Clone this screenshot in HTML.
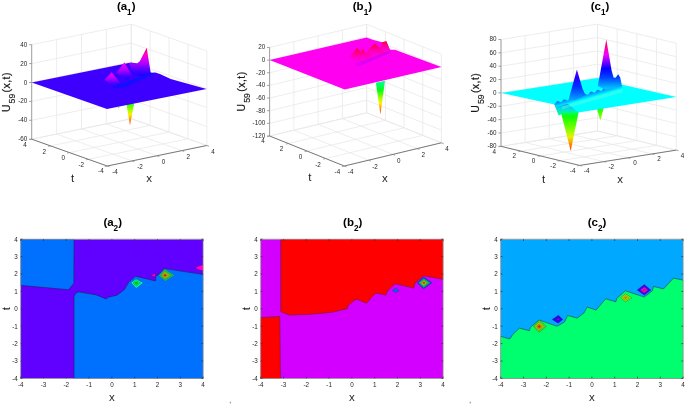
<!DOCTYPE html>
<html><head><meta charset="utf-8"><style>
html,body{margin:0;padding:0;background:#fff;}
svg{display:block;filter:blur(0.35px);}
text{font-family:"Liberation Sans", sans-serif;}
</style></head><body>
<svg width="685" height="405" viewBox="0 0 685 405">
<defs><linearGradient id="a1sp" gradientUnits="userSpaceOnUse" x1="0" y1="104" x2="0" y2="125.5"><stop offset="0" stop-color="#30ff00"/><stop offset="0.3" stop-color="#a8ff00"/><stop offset="0.48" stop-color="#ffee00"/><stop offset="0.72" stop-color="#ff9400"/><stop offset="1" stop-color="#ff3a00"/></linearGradient><linearGradient id="a1bb" gradientUnits="userSpaceOnUse" x1="0" y1="0" x2="0" y2="1"><stop offset="0" stop-color="#1800ff"/><stop offset="1" stop-color="#1800ff"/></linearGradient><linearGradient id="a1p3" gradientUnits="userSpaceOnUse" x1="0" y1="47.7" x2="0" y2="76"><stop offset="0" stop-color="#ff0060"/><stop offset="0.25" stop-color="#ff00d0"/><stop offset="0.5" stop-color="#c000ff"/><stop offset="0.75" stop-color="#6000ff"/><stop offset="1" stop-color="#1800ff"/></linearGradient><linearGradient id="a1p2" gradientUnits="userSpaceOnUse" x1="0" y1="62.2" x2="0" y2="80"><stop offset="0" stop-color="#ff00ff"/><stop offset="0.4" stop-color="#c000ff"/><stop offset="0.8" stop-color="#4000ff"/><stop offset="1" stop-color="#2000ff"/></linearGradient><linearGradient id="a1p1" gradientUnits="userSpaceOnUse" x1="0" y1="72.3" x2="0" y2="86"><stop offset="0" stop-color="#ff00ff"/><stop offset="0.4" stop-color="#c000ff"/><stop offset="0.8" stop-color="#5000ff"/><stop offset="1" stop-color="#3a00ff"/></linearGradient><linearGradient id="b1sp" gradientUnits="userSpaceOnUse" x1="0" y1="82" x2="0" y2="114.6"><stop offset="0" stop-color="#00ff90"/><stop offset="0.25" stop-color="#00ff10"/><stop offset="0.5" stop-color="#a8ff00"/><stop offset="0.65" stop-color="#ffee00"/><stop offset="0.82" stop-color="#ff9000"/><stop offset="1" stop-color="#ff3000"/></linearGradient><linearGradient id="b1rg" gradientUnits="userSpaceOnUse" x1="0" y1="46" x2="0" y2="64"><stop offset="0" stop-color="#ff0088"/><stop offset="0.5" stop-color="#ff00c0"/><stop offset="1" stop-color="#ff00ea"/></linearGradient><linearGradient id="b1pA" gradientUnits="userSpaceOnUse" x1="0" y1="48" x2="0" y2="63"><stop offset="0" stop-color="#ff0028"/><stop offset="0.18" stop-color="#ff0060"/><stop offset="0.45" stop-color="#ff00a8"/><stop offset="0.8" stop-color="#ff00e0"/><stop offset="1" stop-color="#ff00f0"/></linearGradient><linearGradient id="b1pB" gradientUnits="userSpaceOnUse" x1="0" y1="48.8" x2="0" y2="61"><stop offset="0" stop-color="#ff0028"/><stop offset="0.18" stop-color="#ff0060"/><stop offset="0.45" stop-color="#ff00a8"/><stop offset="0.8" stop-color="#ff00e0"/><stop offset="1" stop-color="#ff00f0"/></linearGradient><linearGradient id="b1pC" gradientUnits="userSpaceOnUse" x1="0" y1="43.6" x2="0" y2="57"><stop offset="0" stop-color="#ff0028"/><stop offset="0.18" stop-color="#ff0060"/><stop offset="0.45" stop-color="#ff00a8"/><stop offset="0.8" stop-color="#ff00e0"/><stop offset="1" stop-color="#ff00f0"/></linearGradient><linearGradient id="b1pD" gradientUnits="userSpaceOnUse" x1="0" y1="41.2" x2="0" y2="53"><stop offset="0" stop-color="#ff0028"/><stop offset="0.18" stop-color="#ff0060"/><stop offset="0.45" stop-color="#ff00a8"/><stop offset="0.8" stop-color="#ff00e0"/><stop offset="1" stop-color="#ff00f0"/></linearGradient><linearGradient id="b1pb" gradientUnits="userSpaceOnUse" x1="0" y1="0" x2="0" y2="1"><stop offset="0" stop-color="#b800ff"/><stop offset="1" stop-color="#b800ff"/></linearGradient><linearGradient id="c1sp2" gradientUnits="userSpaceOnUse" x1="0" y1="101" x2="0" y2="120.5"><stop offset="0" stop-color="#00ffc0"/><stop offset="0.45" stop-color="#30ff00"/><stop offset="1" stop-color="#a0ff00"/></linearGradient><linearGradient id="c1sk" gradientUnits="userSpaceOnUse" x1="0" y1="103" x2="0" y2="115"><stop offset="0" stop-color="#0090ff"/><stop offset="0.5" stop-color="#00e0e0"/><stop offset="1" stop-color="#00ff80"/></linearGradient><linearGradient id="c1rb" gradientUnits="userSpaceOnUse" x1="587.3179397493132" y1="92.29484016863059" x2="588.8730371208792" y2="97.77860458415286"><stop offset="0" stop-color="#0058ff"/><stop offset="0.55" stop-color="#00b0ff"/><stop offset="1" stop-color="#00f0ff"/></linearGradient><linearGradient id="c1sp" gradientUnits="userSpaceOnUse" x1="0" y1="111" x2="0" y2="151"><stop offset="0" stop-color="#00ff70"/><stop offset="0.15" stop-color="#10ff00"/><stop offset="0.45" stop-color="#80ff00"/><stop offset="0.65" stop-color="#e8f000"/><stop offset="0.82" stop-color="#ff9000"/><stop offset="1" stop-color="#ff3000"/></linearGradient><linearGradient id="c1pk" gradientUnits="userSpaceOnUse" x1="0" y1="39.4" x2="0" y2="88"><stop offset="0" stop-color="#ff0040"/><stop offset="0.17" stop-color="#ff00a0"/><stop offset="0.32" stop-color="#f000ff"/><stop offset="0.46" stop-color="#8000ff"/><stop offset="0.6" stop-color="#0800ff"/><stop offset="0.78" stop-color="#0040ff"/><stop offset="1" stop-color="#00c0ff"/></linearGradient><linearGradient id="c1pm" gradientUnits="userSpaceOnUse" x1="0" y1="69.6" x2="0" y2="101"><stop offset="0" stop-color="#7000ff"/><stop offset="0.25" stop-color="#2000ff"/><stop offset="0.55" stop-color="#0030ff"/><stop offset="1" stop-color="#00b0ff"/></linearGradient></defs>
<rect width="685" height="405" fill="#fff"/>
<g id="a1">
<line x1="31.70" y1="139.20" x2="31.70" y2="44.70" stroke="#e8e8e8" stroke-width="0.8" />
<line x1="56.60" y1="134.07" x2="56.60" y2="39.58" stroke="#e8e8e8" stroke-width="0.8" />
<line x1="81.50" y1="128.95" x2="81.50" y2="34.45" stroke="#e8e8e8" stroke-width="0.8" />
<line x1="106.40" y1="123.82" x2="106.40" y2="29.33" stroke="#e8e8e8" stroke-width="0.8" />
<line x1="131.30" y1="118.70" x2="131.30" y2="24.20" stroke="#e8e8e8" stroke-width="0.8" />
<line x1="31.70" y1="139.20" x2="131.30" y2="118.70" stroke="#e8e8e8" stroke-width="0.8" />
<line x1="31.70" y1="120.30" x2="131.30" y2="99.80" stroke="#e8e8e8" stroke-width="0.8" />
<line x1="31.70" y1="101.40" x2="131.30" y2="80.90" stroke="#e8e8e8" stroke-width="0.8" />
<line x1="31.70" y1="82.50" x2="131.30" y2="62.00" stroke="#e8e8e8" stroke-width="0.8" />
<line x1="31.70" y1="63.60" x2="131.30" y2="43.10" stroke="#e8e8e8" stroke-width="0.8" />
<line x1="31.70" y1="44.70" x2="131.30" y2="24.20" stroke="#e8e8e8" stroke-width="0.8" />
<line x1="206.80" y1="145.50" x2="206.80" y2="51.00" stroke="#e8e8e8" stroke-width="0.8" />
<line x1="187.93" y1="138.80" x2="187.93" y2="44.30" stroke="#e8e8e8" stroke-width="0.8" />
<line x1="169.05" y1="132.10" x2="169.05" y2="37.60" stroke="#e8e8e8" stroke-width="0.8" />
<line x1="150.18" y1="125.40" x2="150.18" y2="30.90" stroke="#e8e8e8" stroke-width="0.8" />
<line x1="131.30" y1="118.70" x2="131.30" y2="24.20" stroke="#e8e8e8" stroke-width="0.8" />
<line x1="131.30" y1="118.70" x2="206.80" y2="145.50" stroke="#e8e8e8" stroke-width="0.8" />
<line x1="131.30" y1="99.80" x2="206.80" y2="126.60" stroke="#e8e8e8" stroke-width="0.8" />
<line x1="131.30" y1="80.90" x2="206.80" y2="107.70" stroke="#e8e8e8" stroke-width="0.8" />
<line x1="131.30" y1="62.00" x2="206.80" y2="88.80" stroke="#e8e8e8" stroke-width="0.8" />
<line x1="131.30" y1="43.10" x2="206.80" y2="69.90" stroke="#e8e8e8" stroke-width="0.8" />
<line x1="131.30" y1="24.20" x2="206.80" y2="51.00" stroke="#e8e8e8" stroke-width="0.8" />
<line x1="31.70" y1="139.20" x2="107.20" y2="166.00" stroke="#e8e8e8" stroke-width="0.8" />
<line x1="56.60" y1="134.07" x2="132.10" y2="160.88" stroke="#e8e8e8" stroke-width="0.8" />
<line x1="81.50" y1="128.95" x2="157.00" y2="155.75" stroke="#e8e8e8" stroke-width="0.8" />
<line x1="106.40" y1="123.82" x2="181.90" y2="150.62" stroke="#e8e8e8" stroke-width="0.8" />
<line x1="131.30" y1="118.70" x2="206.80" y2="145.50" stroke="#e8e8e8" stroke-width="0.8" />
<line x1="107.20" y1="166.00" x2="206.80" y2="145.50" stroke="#e8e8e8" stroke-width="0.8" />
<line x1="88.32" y1="159.30" x2="187.93" y2="138.80" stroke="#e8e8e8" stroke-width="0.8" />
<line x1="69.45" y1="152.60" x2="169.05" y2="132.10" stroke="#e8e8e8" stroke-width="0.8" />
<line x1="50.57" y1="145.90" x2="150.18" y2="125.40" stroke="#e8e8e8" stroke-width="0.8" />
<line x1="31.70" y1="139.20" x2="131.30" y2="118.70" stroke="#e8e8e8" stroke-width="0.8" />
<line x1="31.70" y1="139.20" x2="31.70" y2="44.70" stroke="#8c8c8c" stroke-width="0.8" />
<line x1="31.70" y1="139.20" x2="107.20" y2="166.00" stroke="#5a5a5a" stroke-width="0.8" />
<line x1="107.20" y1="166.00" x2="206.80" y2="145.50" stroke="#5a5a5a" stroke-width="0.8" />
<line x1="29.10" y1="139.20" x2="31.70" y2="139.20" stroke="#8c8c8c" stroke-width="0.8" />
<text x="27.30" y="141.20" font-size="6.3" text-anchor="end" font-weight="normal" fill="#262626" >-60</text>
<line x1="29.10" y1="120.30" x2="31.70" y2="120.30" stroke="#8c8c8c" stroke-width="0.8" />
<text x="27.30" y="122.30" font-size="6.3" text-anchor="end" font-weight="normal" fill="#262626" >-40</text>
<line x1="29.10" y1="101.40" x2="31.70" y2="101.40" stroke="#8c8c8c" stroke-width="0.8" />
<text x="27.30" y="103.40" font-size="6.3" text-anchor="end" font-weight="normal" fill="#262626" >-20</text>
<line x1="29.10" y1="82.50" x2="31.70" y2="82.50" stroke="#8c8c8c" stroke-width="0.8" />
<text x="27.30" y="84.50" font-size="6.3" text-anchor="end" font-weight="normal" fill="#262626" >0</text>
<line x1="29.10" y1="63.60" x2="31.70" y2="63.60" stroke="#8c8c8c" stroke-width="0.8" />
<text x="27.30" y="65.60" font-size="6.3" text-anchor="end" font-weight="normal" fill="#262626" >20</text>
<line x1="29.10" y1="44.70" x2="31.70" y2="44.70" stroke="#8c8c8c" stroke-width="0.8" />
<text x="27.30" y="46.70" font-size="6.3" text-anchor="end" font-weight="normal" fill="#262626" >40</text>
<line x1="107.20" y1="166.00" x2="104.85" y2="166.48" stroke="#8c8c8c" stroke-width="0.8" />
<line x1="88.32" y1="159.30" x2="85.97" y2="159.78" stroke="#8c8c8c" stroke-width="0.8" />
<line x1="69.45" y1="152.60" x2="67.10" y2="153.08" stroke="#8c8c8c" stroke-width="0.8" />
<line x1="50.57" y1="145.90" x2="48.22" y2="146.38" stroke="#8c8c8c" stroke-width="0.8" />
<line x1="31.70" y1="139.20" x2="29.35" y2="139.68" stroke="#8c8c8c" stroke-width="0.8" />
<line x1="107.20" y1="166.00" x2="109.46" y2="166.80" stroke="#8c8c8c" stroke-width="0.8" />
<line x1="132.10" y1="160.88" x2="134.36" y2="161.68" stroke="#8c8c8c" stroke-width="0.8" />
<line x1="157.00" y1="155.75" x2="159.26" y2="156.55" stroke="#8c8c8c" stroke-width="0.8" />
<line x1="181.90" y1="150.62" x2="184.16" y2="151.43" stroke="#8c8c8c" stroke-width="0.8" />
<line x1="206.80" y1="145.50" x2="209.06" y2="146.30" stroke="#8c8c8c" stroke-width="0.8" />
<text x="25.10" y="147.40" font-size="6.3" text-anchor="middle" font-weight="normal" fill="#262626" >4</text>
<text x="44.30" y="153.80" font-size="6.3" text-anchor="middle" font-weight="normal" fill="#262626" >2</text>
<text x="63.20" y="159.90" font-size="6.3" text-anchor="middle" font-weight="normal" fill="#262626" >0</text>
<text x="81.30" y="166.90" font-size="6.3" text-anchor="middle" font-weight="normal" fill="#262626" >-2</text>
<text x="100.90" y="173.30" font-size="6.3" text-anchor="middle" font-weight="normal" fill="#262626" >-4</text>
<text x="115.00" y="174.00" font-size="6.3" text-anchor="middle" font-weight="normal" fill="#262626" >-4</text>
<text x="140.00" y="169.10" font-size="6.3" text-anchor="middle" font-weight="normal" fill="#262626" >-2</text>
<text x="163.50" y="164.30" font-size="6.3" text-anchor="middle" font-weight="normal" fill="#262626" >0</text>
<text x="188.20" y="158.90" font-size="6.3" text-anchor="middle" font-weight="normal" fill="#262626" >2</text>
<text x="213.00" y="154.00" font-size="6.3" text-anchor="middle" font-weight="normal" fill="#262626" >4</text>
</g>
<g id="b1">
<line x1="269.60" y1="136.00" x2="269.60" y2="47.45" stroke="#e8e8e8" stroke-width="0.8" />
<line x1="293.88" y1="130.20" x2="293.88" y2="41.65" stroke="#e8e8e8" stroke-width="0.8" />
<line x1="318.15" y1="124.40" x2="318.15" y2="35.85" stroke="#e8e8e8" stroke-width="0.8" />
<line x1="342.42" y1="118.60" x2="342.42" y2="30.05" stroke="#e8e8e8" stroke-width="0.8" />
<line x1="366.70" y1="112.80" x2="366.70" y2="24.25" stroke="#e8e8e8" stroke-width="0.8" />
<line x1="269.60" y1="136.00" x2="366.70" y2="112.80" stroke="#e8e8e8" stroke-width="0.8" />
<line x1="269.60" y1="123.35" x2="366.70" y2="100.15" stroke="#e8e8e8" stroke-width="0.8" />
<line x1="269.60" y1="110.70" x2="366.70" y2="87.50" stroke="#e8e8e8" stroke-width="0.8" />
<line x1="269.60" y1="98.05" x2="366.70" y2="74.85" stroke="#e8e8e8" stroke-width="0.8" />
<line x1="269.60" y1="85.40" x2="366.70" y2="62.20" stroke="#e8e8e8" stroke-width="0.8" />
<line x1="269.60" y1="72.75" x2="366.70" y2="49.55" stroke="#e8e8e8" stroke-width="0.8" />
<line x1="269.60" y1="60.10" x2="366.70" y2="36.90" stroke="#e8e8e8" stroke-width="0.8" />
<line x1="269.60" y1="47.45" x2="366.70" y2="24.25" stroke="#e8e8e8" stroke-width="0.8" />
<line x1="441.40" y1="142.80" x2="441.40" y2="54.25" stroke="#e8e8e8" stroke-width="0.8" />
<line x1="422.72" y1="135.30" x2="422.72" y2="46.75" stroke="#e8e8e8" stroke-width="0.8" />
<line x1="404.05" y1="127.80" x2="404.05" y2="39.25" stroke="#e8e8e8" stroke-width="0.8" />
<line x1="385.37" y1="120.30" x2="385.37" y2="31.75" stroke="#e8e8e8" stroke-width="0.8" />
<line x1="366.70" y1="112.80" x2="366.70" y2="24.25" stroke="#e8e8e8" stroke-width="0.8" />
<line x1="366.70" y1="112.80" x2="441.40" y2="142.80" stroke="#e8e8e8" stroke-width="0.8" />
<line x1="366.70" y1="100.15" x2="441.40" y2="130.15" stroke="#e8e8e8" stroke-width="0.8" />
<line x1="366.70" y1="87.50" x2="441.40" y2="117.50" stroke="#e8e8e8" stroke-width="0.8" />
<line x1="366.70" y1="74.85" x2="441.40" y2="104.85" stroke="#e8e8e8" stroke-width="0.8" />
<line x1="366.70" y1="62.20" x2="441.40" y2="92.20" stroke="#e8e8e8" stroke-width="0.8" />
<line x1="366.70" y1="49.55" x2="441.40" y2="79.55" stroke="#e8e8e8" stroke-width="0.8" />
<line x1="366.70" y1="36.90" x2="441.40" y2="66.90" stroke="#e8e8e8" stroke-width="0.8" />
<line x1="366.70" y1="24.25" x2="441.40" y2="54.25" stroke="#e8e8e8" stroke-width="0.8" />
<line x1="269.60" y1="136.00" x2="344.30" y2="166.00" stroke="#e8e8e8" stroke-width="0.8" />
<line x1="293.88" y1="130.20" x2="368.58" y2="160.20" stroke="#e8e8e8" stroke-width="0.8" />
<line x1="318.15" y1="124.40" x2="392.85" y2="154.40" stroke="#e8e8e8" stroke-width="0.8" />
<line x1="342.42" y1="118.60" x2="417.12" y2="148.60" stroke="#e8e8e8" stroke-width="0.8" />
<line x1="366.70" y1="112.80" x2="441.40" y2="142.80" stroke="#e8e8e8" stroke-width="0.8" />
<line x1="344.30" y1="166.00" x2="441.40" y2="142.80" stroke="#e8e8e8" stroke-width="0.8" />
<line x1="325.63" y1="158.50" x2="422.72" y2="135.30" stroke="#e8e8e8" stroke-width="0.8" />
<line x1="306.95" y1="151.00" x2="404.05" y2="127.80" stroke="#e8e8e8" stroke-width="0.8" />
<line x1="288.28" y1="143.50" x2="385.37" y2="120.30" stroke="#e8e8e8" stroke-width="0.8" />
<line x1="269.60" y1="136.00" x2="366.70" y2="112.80" stroke="#e8e8e8" stroke-width="0.8" />
<line x1="269.60" y1="136.00" x2="269.60" y2="47.45" stroke="#8c8c8c" stroke-width="0.8" />
<line x1="269.60" y1="136.00" x2="344.30" y2="166.00" stroke="#5a5a5a" stroke-width="0.8" />
<line x1="344.30" y1="166.00" x2="441.40" y2="142.80" stroke="#5a5a5a" stroke-width="0.8" />
<line x1="267.00" y1="136.00" x2="269.60" y2="136.00" stroke="#8c8c8c" stroke-width="0.8" />
<text x="265.20" y="138.00" font-size="6.3" text-anchor="end" font-weight="normal" fill="#262626" >-120</text>
<line x1="267.00" y1="123.35" x2="269.60" y2="123.35" stroke="#8c8c8c" stroke-width="0.8" />
<text x="265.20" y="125.35" font-size="6.3" text-anchor="end" font-weight="normal" fill="#262626" >-100</text>
<line x1="267.00" y1="110.70" x2="269.60" y2="110.70" stroke="#8c8c8c" stroke-width="0.8" />
<text x="265.20" y="112.70" font-size="6.3" text-anchor="end" font-weight="normal" fill="#262626" >-80</text>
<line x1="267.00" y1="98.05" x2="269.60" y2="98.05" stroke="#8c8c8c" stroke-width="0.8" />
<text x="265.20" y="100.05" font-size="6.3" text-anchor="end" font-weight="normal" fill="#262626" >-60</text>
<line x1="267.00" y1="85.40" x2="269.60" y2="85.40" stroke="#8c8c8c" stroke-width="0.8" />
<text x="265.20" y="87.40" font-size="6.3" text-anchor="end" font-weight="normal" fill="#262626" >-40</text>
<line x1="267.00" y1="72.75" x2="269.60" y2="72.75" stroke="#8c8c8c" stroke-width="0.8" />
<text x="265.20" y="74.75" font-size="6.3" text-anchor="end" font-weight="normal" fill="#262626" >-20</text>
<line x1="267.00" y1="60.10" x2="269.60" y2="60.10" stroke="#8c8c8c" stroke-width="0.8" />
<text x="265.20" y="62.10" font-size="6.3" text-anchor="end" font-weight="normal" fill="#262626" >0</text>
<line x1="267.00" y1="47.45" x2="269.60" y2="47.45" stroke="#8c8c8c" stroke-width="0.8" />
<text x="265.20" y="49.45" font-size="6.3" text-anchor="end" font-weight="normal" fill="#262626" >20</text>
<line x1="344.30" y1="166.00" x2="341.97" y2="166.56" stroke="#8c8c8c" stroke-width="0.8" />
<line x1="325.63" y1="158.50" x2="323.29" y2="159.06" stroke="#8c8c8c" stroke-width="0.8" />
<line x1="306.95" y1="151.00" x2="304.62" y2="151.56" stroke="#8c8c8c" stroke-width="0.8" />
<line x1="288.28" y1="143.50" x2="285.94" y2="144.06" stroke="#8c8c8c" stroke-width="0.8" />
<line x1="269.60" y1="136.00" x2="267.27" y2="136.56" stroke="#8c8c8c" stroke-width="0.8" />
<line x1="344.30" y1="166.00" x2="346.53" y2="166.89" stroke="#8c8c8c" stroke-width="0.8" />
<line x1="368.58" y1="160.20" x2="370.80" y2="161.09" stroke="#8c8c8c" stroke-width="0.8" />
<line x1="392.85" y1="154.40" x2="395.08" y2="155.29" stroke="#8c8c8c" stroke-width="0.8" />
<line x1="417.12" y1="148.60" x2="419.35" y2="149.49" stroke="#8c8c8c" stroke-width="0.8" />
<line x1="441.40" y1="142.80" x2="443.63" y2="143.69" stroke="#8c8c8c" stroke-width="0.8" />
<text x="262.90" y="143.10" font-size="6.3" text-anchor="middle" font-weight="normal" fill="#262626" >4</text>
<text x="281.60" y="151.30" font-size="6.3" text-anchor="middle" font-weight="normal" fill="#262626" >2</text>
<text x="300.60" y="159.00" font-size="6.3" text-anchor="middle" font-weight="normal" fill="#262626" >0</text>
<text x="318.00" y="166.70" font-size="6.3" text-anchor="middle" font-weight="normal" fill="#262626" >-2</text>
<text x="337.40" y="173.70" font-size="6.3" text-anchor="middle" font-weight="normal" fill="#262626" >-4</text>
<text x="350.60" y="174.30" font-size="6.3" text-anchor="middle" font-weight="normal" fill="#262626" >-4</text>
<text x="375.00" y="168.80" font-size="6.3" text-anchor="middle" font-weight="normal" fill="#262626" >-2</text>
<text x="398.70" y="162.70" font-size="6.3" text-anchor="middle" font-weight="normal" fill="#262626" >0</text>
<text x="423.20" y="156.90" font-size="6.3" text-anchor="middle" font-weight="normal" fill="#262626" >2</text>
<text x="447.10" y="151.30" font-size="6.3" text-anchor="middle" font-weight="normal" fill="#262626" >4</text>
</g>
<g id="c1">
<line x1="501.00" y1="146.34" x2="501.00" y2="39.46" stroke="#e8e8e8" stroke-width="0.8" />
<line x1="525.12" y1="142.52" x2="525.12" y2="35.63" stroke="#e8e8e8" stroke-width="0.8" />
<line x1="549.25" y1="138.69" x2="549.25" y2="31.81" stroke="#e8e8e8" stroke-width="0.8" />
<line x1="573.38" y1="134.87" x2="573.38" y2="27.98" stroke="#e8e8e8" stroke-width="0.8" />
<line x1="597.50" y1="131.04" x2="597.50" y2="24.16" stroke="#e8e8e8" stroke-width="0.8" />
<line x1="501.00" y1="146.34" x2="597.50" y2="131.04" stroke="#e8e8e8" stroke-width="0.8" />
<line x1="501.00" y1="132.98" x2="597.50" y2="117.68" stroke="#e8e8e8" stroke-width="0.8" />
<line x1="501.00" y1="119.62" x2="597.50" y2="104.32" stroke="#e8e8e8" stroke-width="0.8" />
<line x1="501.00" y1="106.26" x2="597.50" y2="90.96" stroke="#e8e8e8" stroke-width="0.8" />
<line x1="501.00" y1="92.90" x2="597.50" y2="77.60" stroke="#e8e8e8" stroke-width="0.8" />
<line x1="501.00" y1="79.54" x2="597.50" y2="64.24" stroke="#e8e8e8" stroke-width="0.8" />
<line x1="501.00" y1="66.18" x2="597.50" y2="50.88" stroke="#e8e8e8" stroke-width="0.8" />
<line x1="501.00" y1="52.82" x2="597.50" y2="37.52" stroke="#e8e8e8" stroke-width="0.8" />
<line x1="501.00" y1="39.46" x2="597.50" y2="24.16" stroke="#e8e8e8" stroke-width="0.8" />
<line x1="676.20" y1="150.14" x2="676.20" y2="43.26" stroke="#e8e8e8" stroke-width="0.8" />
<line x1="656.53" y1="145.37" x2="656.53" y2="38.49" stroke="#e8e8e8" stroke-width="0.8" />
<line x1="636.85" y1="140.59" x2="636.85" y2="33.71" stroke="#e8e8e8" stroke-width="0.8" />
<line x1="617.17" y1="135.81" x2="617.17" y2="28.93" stroke="#e8e8e8" stroke-width="0.8" />
<line x1="597.50" y1="131.04" x2="597.50" y2="24.16" stroke="#e8e8e8" stroke-width="0.8" />
<line x1="597.50" y1="131.04" x2="676.20" y2="150.14" stroke="#e8e8e8" stroke-width="0.8" />
<line x1="597.50" y1="117.68" x2="676.20" y2="136.78" stroke="#e8e8e8" stroke-width="0.8" />
<line x1="597.50" y1="104.32" x2="676.20" y2="123.42" stroke="#e8e8e8" stroke-width="0.8" />
<line x1="597.50" y1="90.96" x2="676.20" y2="110.06" stroke="#e8e8e8" stroke-width="0.8" />
<line x1="597.50" y1="77.60" x2="676.20" y2="96.70" stroke="#e8e8e8" stroke-width="0.8" />
<line x1="597.50" y1="64.24" x2="676.20" y2="83.34" stroke="#e8e8e8" stroke-width="0.8" />
<line x1="597.50" y1="50.88" x2="676.20" y2="69.98" stroke="#e8e8e8" stroke-width="0.8" />
<line x1="597.50" y1="37.52" x2="676.20" y2="56.62" stroke="#e8e8e8" stroke-width="0.8" />
<line x1="597.50" y1="24.16" x2="676.20" y2="43.26" stroke="#e8e8e8" stroke-width="0.8" />
<line x1="501.00" y1="146.34" x2="579.70" y2="165.44" stroke="#e8e8e8" stroke-width="0.8" />
<line x1="525.12" y1="142.52" x2="603.83" y2="161.62" stroke="#e8e8e8" stroke-width="0.8" />
<line x1="549.25" y1="138.69" x2="627.95" y2="157.79" stroke="#e8e8e8" stroke-width="0.8" />
<line x1="573.38" y1="134.87" x2="652.08" y2="153.97" stroke="#e8e8e8" stroke-width="0.8" />
<line x1="597.50" y1="131.04" x2="676.20" y2="150.14" stroke="#e8e8e8" stroke-width="0.8" />
<line x1="579.70" y1="165.44" x2="676.20" y2="150.14" stroke="#e8e8e8" stroke-width="0.8" />
<line x1="560.03" y1="160.67" x2="656.53" y2="145.37" stroke="#e8e8e8" stroke-width="0.8" />
<line x1="540.35" y1="155.89" x2="636.85" y2="140.59" stroke="#e8e8e8" stroke-width="0.8" />
<line x1="520.67" y1="151.12" x2="617.17" y2="135.81" stroke="#e8e8e8" stroke-width="0.8" />
<line x1="501.00" y1="146.34" x2="597.50" y2="131.04" stroke="#e8e8e8" stroke-width="0.8" />
<line x1="501.00" y1="146.34" x2="501.00" y2="39.46" stroke="#8c8c8c" stroke-width="0.8" />
<line x1="501.00" y1="146.34" x2="579.70" y2="165.44" stroke="#5a5a5a" stroke-width="0.8" />
<line x1="579.70" y1="165.44" x2="676.20" y2="150.14" stroke="#5a5a5a" stroke-width="0.8" />
<line x1="498.40" y1="146.34" x2="501.00" y2="146.34" stroke="#8c8c8c" stroke-width="0.8" />
<text x="496.60" y="148.34" font-size="6.3" text-anchor="end" font-weight="normal" fill="#262626" >-80</text>
<line x1="498.40" y1="132.98" x2="501.00" y2="132.98" stroke="#8c8c8c" stroke-width="0.8" />
<text x="496.60" y="134.98" font-size="6.3" text-anchor="end" font-weight="normal" fill="#262626" >-60</text>
<line x1="498.40" y1="119.62" x2="501.00" y2="119.62" stroke="#8c8c8c" stroke-width="0.8" />
<text x="496.60" y="121.62" font-size="6.3" text-anchor="end" font-weight="normal" fill="#262626" >-40</text>
<line x1="498.40" y1="106.26" x2="501.00" y2="106.26" stroke="#8c8c8c" stroke-width="0.8" />
<text x="496.60" y="108.26" font-size="6.3" text-anchor="end" font-weight="normal" fill="#262626" >-20</text>
<line x1="498.40" y1="92.90" x2="501.00" y2="92.90" stroke="#8c8c8c" stroke-width="0.8" />
<text x="496.60" y="94.90" font-size="6.3" text-anchor="end" font-weight="normal" fill="#262626" >0</text>
<line x1="498.40" y1="79.54" x2="501.00" y2="79.54" stroke="#8c8c8c" stroke-width="0.8" />
<text x="496.60" y="81.54" font-size="6.3" text-anchor="end" font-weight="normal" fill="#262626" >20</text>
<line x1="498.40" y1="66.18" x2="501.00" y2="66.18" stroke="#8c8c8c" stroke-width="0.8" />
<text x="496.60" y="68.18" font-size="6.3" text-anchor="end" font-weight="normal" fill="#262626" >40</text>
<line x1="498.40" y1="52.82" x2="501.00" y2="52.82" stroke="#8c8c8c" stroke-width="0.8" />
<text x="496.60" y="54.82" font-size="6.3" text-anchor="end" font-weight="normal" fill="#262626" >60</text>
<line x1="498.40" y1="39.46" x2="501.00" y2="39.46" stroke="#8c8c8c" stroke-width="0.8" />
<text x="496.60" y="41.46" font-size="6.3" text-anchor="end" font-weight="normal" fill="#262626" >80</text>
<line x1="579.70" y1="165.44" x2="577.33" y2="165.82" stroke="#8c8c8c" stroke-width="0.8" />
<line x1="560.03" y1="160.67" x2="557.65" y2="161.04" stroke="#8c8c8c" stroke-width="0.8" />
<line x1="540.35" y1="155.89" x2="537.98" y2="156.27" stroke="#8c8c8c" stroke-width="0.8" />
<line x1="520.67" y1="151.12" x2="518.30" y2="151.49" stroke="#8c8c8c" stroke-width="0.8" />
<line x1="501.00" y1="146.34" x2="498.63" y2="146.72" stroke="#8c8c8c" stroke-width="0.8" />
<line x1="579.70" y1="165.44" x2="582.03" y2="166.01" stroke="#8c8c8c" stroke-width="0.8" />
<line x1="603.83" y1="161.62" x2="606.16" y2="162.18" stroke="#8c8c8c" stroke-width="0.8" />
<line x1="627.95" y1="157.79" x2="630.28" y2="158.36" stroke="#8c8c8c" stroke-width="0.8" />
<line x1="652.08" y1="153.97" x2="654.41" y2="154.53" stroke="#8c8c8c" stroke-width="0.8" />
<line x1="676.20" y1="150.14" x2="678.53" y2="150.71" stroke="#8c8c8c" stroke-width="0.8" />
<text x="494.20" y="153.50" font-size="6.3" text-anchor="middle" font-weight="normal" fill="#262626" >4</text>
<text x="514.30" y="158.10" font-size="6.3" text-anchor="middle" font-weight="normal" fill="#262626" >2</text>
<text x="533.60" y="163.10" font-size="6.3" text-anchor="middle" font-weight="normal" fill="#262626" >0</text>
<text x="553.10" y="167.90" font-size="6.3" text-anchor="middle" font-weight="normal" fill="#262626" >-2</text>
<text x="572.60" y="172.60" font-size="6.3" text-anchor="middle" font-weight="normal" fill="#262626" >-4</text>
<text x="586.60" y="173.20" font-size="6.3" text-anchor="middle" font-weight="normal" fill="#262626" >-4</text>
<text x="611.20" y="168.70" font-size="6.3" text-anchor="middle" font-weight="normal" fill="#262626" >-2</text>
<text x="635.00" y="165.20" font-size="6.3" text-anchor="middle" font-weight="normal" fill="#262626" >0</text>
<text x="659.00" y="161.30" font-size="6.3" text-anchor="middle" font-weight="normal" fill="#262626" >2</text>
<text x="682.60" y="157.70" font-size="6.3" text-anchor="middle" font-weight="normal" fill="#262626" >4</text>
</g>
<g id="a1s">
<polygon points="126.40,103.80 134.30,102.20 130.00,125.60" fill="url(#a1sp)" />
<circle cx="118.6" cy="107.5" r="0.7" fill="#50ff40"/>
<polygon points="31.70,82.50 130.90,62.50 137.00,63.50 150.70,72.80 155.30,72.50 160.00,74.00 170.70,78.90 206.60,89.00 107.00,108.90" fill="#3d00ff" />
<polygon points="112.00,85.50 122.00,83.50 134.00,79.00 150.70,72.60 154.00,73.80 136.00,82.00 124.00,87.50 114.00,88.00" fill="#0a10ff" opacity="0.85"/>
<polygon points="129.00,63.00 137.00,63.50 139.80,61.20 146.70,47.70 150.70,72.80 141.00,76.50 133.00,74.50" fill="url(#a1p3)" />
<polygon points="124.40,62.20 132.70,76.40 126.00,80.00 116.00,73.30" fill="url(#a1p2)" />
<polygon points="111.70,72.30 119.80,82.60 114.00,86.00 104.30,80.10" fill="url(#a1p1)" />
</g>
<g id="b1s">
<polygon points="375.90,82.80 385.00,80.70 380.40,114.60" fill="url(#b1sp)" />
<polygon points="269.60,60.10 366.60,37.60 372.60,39.70 382.10,42.30 386.30,41.20 389.90,49.70 395.00,49.70 441.40,66.90 344.70,89.60" fill="#ff00f0" />
<polygon points="352.00,57.00 360.00,52.00 366.00,53.00 372.00,48.00 380.00,47.50 386.00,45.00 390.00,49.70 388.00,53.00 368.00,61.00 360.00,64.50" fill="url(#b1rg)" />
<polygon points="357.10,48.00 361.00,51.50 362.50,60.00 359.70,64.00 350.20,56.60" fill="url(#b1pA)" />
<polygon points="363.10,48.80 367.00,56.60 363.00,61.00 360.00,55.00" fill="url(#b1pB)" />
<polygon points="374.80,43.60 380.40,48.80 379.00,55.00 372.00,57.00 368.30,49.50" fill="url(#b1pC)" />
<polygon points="382.10,42.30 386.30,41.20 389.90,49.70 386.00,53.00 381.00,50.00" fill="url(#b1pD)" />
<polygon points="355.00,63.50 366.00,60.00 389.50,50.50 391.50,52.50 368.00,62.50 358.00,66.50" fill="#c000ff" opacity="0.5"/>
</g>
<g id="c1s">
<polygon points="595.20,103.00 605.50,101.00 600.40,120.80" fill="url(#c1sp2)" />
<polygon points="501.00,92.90 597.50,78.00 621.50,84.50 554.50,104.50" fill="#00ffff" />
<polygon points="554.50,104.50 621.50,84.50 676.20,96.90 578.50,112.60 561.70,113.90 558.70,115.20" fill="#00ffff" />
<polygon points="554.50,104.20 560.00,102.50 568.00,104.00 578.60,112.60 561.70,113.90 558.70,115.20" fill="url(#c1sk)" />
<polygon points="554.50,104.20 557.22,101.04 561.20,102.30 563.92,99.14 567.90,100.40 570.62,97.24 574.60,98.50 577.32,95.34 581.30,96.60 584.02,93.44 588.00,94.70 590.72,91.54 594.70,92.80 597.42,89.64 601.40,90.90 604.12,87.74 608.10,89.00 610.82,85.84 614.80,87.10 617.52,83.94 621.50,85.20 622.37,88.28 555.37,107.28" fill="url(#c1rb)" />
<polygon points="561.36,106.41 622.59,89.05 623.41,91.93 562.18,109.30" fill="#60ffe0" opacity="0.45"/>
<polygon points="561.20,113.20 578.60,112.30 570.70,151.00" fill="url(#c1sp)" />
<polygon points="606.30,39.40 611.60,70.50 613.60,77.50 615.60,77.80 618.20,74.30 620.20,77.50 622.00,86.00 606.00,90.00 597.80,86.00" fill="url(#c1pk)" />
<polygon points="576.90,69.60 582.40,88.40 585.50,95.00 575.00,100.50 568.80,99.00" fill="url(#c1pm)" />
</g>
<text x="72.60" y="182.00" font-size="11.5" text-anchor="middle" font-weight="normal" fill="#262626" >t</text>
<text x="149.00" y="182.00" font-size="11.5" text-anchor="middle" font-weight="normal" fill="#262626" >x</text>
<text x="126.20" y="9.70" font-size="11.5" font-weight="bold" text-anchor="middle" fill="#000">(a<tspan font-size="8.2" dy="5.0">1</tspan><tspan dy="-5.0">)</tspan></text>
<text transform="translate(10.00,112.10) rotate(-90)" font-size="10.5" fill="#1a1a1a" stroke="#1a1a1a" stroke-width="0.2">U</text>
<text transform="translate(14.80,103.40) rotate(-90)" font-size="8.6" fill="#1a1a1a" stroke="#1a1a1a" stroke-width="0.15">59</text>
<text transform="translate(10.00,92.40) rotate(-90)" font-size="10.5" letter-spacing="0.45" fill="#1a1a1a" stroke="#1a1a1a" stroke-width="0.2">(x,t)</text>
<text x="309.80" y="180.60" font-size="11.5" text-anchor="middle" font-weight="normal" fill="#262626" >t</text>
<text x="384.90" y="182.00" font-size="11.5" text-anchor="middle" font-weight="normal" fill="#262626" >x</text>
<text x="362.40" y="9.70" font-size="11.5" font-weight="bold" text-anchor="middle" fill="#000">(b<tspan font-size="8.2" dy="5.0">1</tspan><tspan dy="-5.0">)</tspan></text>
<text transform="translate(244.90,111.40) rotate(-90)" font-size="10.5" fill="#1a1a1a" stroke="#1a1a1a" stroke-width="0.2">U</text>
<text transform="translate(249.70,102.70) rotate(-90)" font-size="8.6" fill="#1a1a1a" stroke="#1a1a1a" stroke-width="0.15">59</text>
<text transform="translate(244.90,91.70) rotate(-90)" font-size="10.5" letter-spacing="0.45" fill="#1a1a1a" stroke="#1a1a1a" stroke-width="0.2">(x,t)</text>
<text x="543.50" y="183.30" font-size="11.5" text-anchor="middle" font-weight="normal" fill="#262626" >t</text>
<text x="620.00" y="183.20" font-size="11.5" text-anchor="middle" font-weight="normal" fill="#262626" >x</text>
<text x="600.00" y="9.70" font-size="11.5" font-weight="bold" text-anchor="middle" fill="#000">(c<tspan font-size="8.2" dy="5.0">1</tspan><tspan dy="-5.0">)</tspan></text>
<text transform="translate(478.90,112.80) rotate(-90)" font-size="10.5" fill="#1a1a1a" stroke="#1a1a1a" stroke-width="0.2">U</text>
<text transform="translate(483.70,104.10) rotate(-90)" font-size="8.6" fill="#1a1a1a" stroke="#1a1a1a" stroke-width="0.15">59</text>
<text transform="translate(478.90,93.10) rotate(-90)" font-size="10.5" letter-spacing="0.45" fill="#1a1a1a" stroke="#1a1a1a" stroke-width="0.2">(x,t)</text>
<g id="p20">
<clipPath id="cp0"><rect x="20.7" y="239.2" width="182.40" height="139.20"/></clipPath>
<g clip-path="url(#cp0)">
<rect x="20.7" y="239.2" width="182.4" height="139.2" fill="#6000ff"/>
<polygon points="19.70,238.20 74.00,238.20 73.90,283.30 68.60,289.70 19.70,285.30" fill="#0070ff" stroke="#202060" stroke-width="0.6"/>
<polygon points="74.00,379.40 74.00,296.70 75.50,293.50 78.40,291.80 96.20,294.90 106.10,298.90 108.40,297.20 116.90,295.20 124.50,289.50 128.40,282.60 135.40,276.20 154.40,280.70 155.70,280.70 155.70,276.00 157.40,275.50 164.70,268.60 204.10,274.60 204.10,379.40" fill="#0070ff" stroke="#202060" stroke-width="0.6"/>
<polygon points="136.00,279.00 143.30,282.80 136.20,288.20 130.90,282.80" fill="#00ffd0" stroke="#103030" stroke-width="0.5" stroke-opacity="0.6"/>
<polygon points="136.04,280.60 140.56,282.95 136.16,286.30 132.88,282.95" fill="#00ff30" stroke="#103030" stroke-width="0.5" stroke-opacity="0.6"/>
<polygon points="136.07,282.15 137.90,283.10 136.12,284.45 134.80,283.10" fill="#10d010" stroke="#103030" stroke-width="0.5" stroke-opacity="0.6"/>
<polygon points="164.60,269.00 174.50,275.30 165.10,281.20 158.80,275.60" fill="#10e8a0" stroke="#103030" stroke-width="0.5" stroke-opacity="0.6"/>
<polygon points="164.64,270.15 172.75,275.32 165.05,280.16 159.88,275.56" fill="#30d040" stroke="#103030" stroke-width="0.5" stroke-opacity="0.6"/>
<polygon points="164.68,271.56 170.62,275.34 164.98,278.88 161.20,275.52" fill="#a0e800" stroke="#103030" stroke-width="0.5" stroke-opacity="0.6"/>
<polygon points="164.72,272.84 168.68,275.36 164.92,277.72 162.40,275.48" fill="#f0b000" stroke="#103030" stroke-width="0.5" stroke-opacity="0.6"/>
<polygon points="164.76,274.12 166.74,275.38 164.86,276.56 163.60,275.44" fill="#c83000" stroke="#103030" stroke-width="0.5" stroke-opacity="0.6"/>
<polygon points="150.90,275.50 155.20,273.30 155.40,277.00" fill="#ff00c8" stroke="#400040" stroke-width="0.5" stroke-opacity="0.6"/>
<polygon points="194.30,268.00 204.00,264.00 204.00,271.30" fill="#ff00d0" stroke="#400040" stroke-width="0.5" stroke-opacity="0.6"/>
</g>
<rect x="20.7" y="239.2" width="182.40" height="139.20" fill="none" stroke="#8c8c8c" stroke-width="0.8"/>
<line x1="20.70" y1="378.40" x2="20.70" y2="376.60" stroke="#333" stroke-width="0.7" />
<line x1="20.70" y1="239.20" x2="20.70" y2="241.00" stroke="#333" stroke-width="0.7" />
<line x1="20.70" y1="378.40" x2="22.50" y2="378.40" stroke="#333" stroke-width="0.7" />
<line x1="203.10" y1="378.40" x2="201.30" y2="378.40" stroke="#333" stroke-width="0.7" />
<text x="20.70" y="386.90" font-size="6.3" text-anchor="middle" font-weight="normal" fill="#262626" >-4</text>
<text x="17.80" y="380.70" font-size="6.3" text-anchor="end" font-weight="normal" fill="#262626" >-4</text>
<line x1="43.50" y1="378.40" x2="43.50" y2="376.60" stroke="#333" stroke-width="0.7" />
<line x1="43.50" y1="239.20" x2="43.50" y2="241.00" stroke="#333" stroke-width="0.7" />
<line x1="20.70" y1="361.00" x2="22.50" y2="361.00" stroke="#333" stroke-width="0.7" />
<line x1="203.10" y1="361.00" x2="201.30" y2="361.00" stroke="#333" stroke-width="0.7" />
<text x="43.50" y="386.90" font-size="6.3" text-anchor="middle" font-weight="normal" fill="#262626" >-3</text>
<text x="17.80" y="363.30" font-size="6.3" text-anchor="end" font-weight="normal" fill="#262626" >-3</text>
<line x1="66.30" y1="378.40" x2="66.30" y2="376.60" stroke="#333" stroke-width="0.7" />
<line x1="66.30" y1="239.20" x2="66.30" y2="241.00" stroke="#333" stroke-width="0.7" />
<line x1="20.70" y1="343.60" x2="22.50" y2="343.60" stroke="#333" stroke-width="0.7" />
<line x1="203.10" y1="343.60" x2="201.30" y2="343.60" stroke="#333" stroke-width="0.7" />
<text x="66.30" y="386.90" font-size="6.3" text-anchor="middle" font-weight="normal" fill="#262626" >-2</text>
<text x="17.80" y="345.90" font-size="6.3" text-anchor="end" font-weight="normal" fill="#262626" >-2</text>
<line x1="89.10" y1="378.40" x2="89.10" y2="376.60" stroke="#333" stroke-width="0.7" />
<line x1="89.10" y1="239.20" x2="89.10" y2="241.00" stroke="#333" stroke-width="0.7" />
<line x1="20.70" y1="326.20" x2="22.50" y2="326.20" stroke="#333" stroke-width="0.7" />
<line x1="203.10" y1="326.20" x2="201.30" y2="326.20" stroke="#333" stroke-width="0.7" />
<text x="89.10" y="386.90" font-size="6.3" text-anchor="middle" font-weight="normal" fill="#262626" >-1</text>
<text x="17.80" y="328.50" font-size="6.3" text-anchor="end" font-weight="normal" fill="#262626" >-1</text>
<line x1="111.90" y1="378.40" x2="111.90" y2="376.60" stroke="#333" stroke-width="0.7" />
<line x1="111.90" y1="239.20" x2="111.90" y2="241.00" stroke="#333" stroke-width="0.7" />
<line x1="20.70" y1="308.80" x2="22.50" y2="308.80" stroke="#333" stroke-width="0.7" />
<line x1="203.10" y1="308.80" x2="201.30" y2="308.80" stroke="#333" stroke-width="0.7" />
<text x="111.90" y="386.90" font-size="6.3" text-anchor="middle" font-weight="normal" fill="#262626" >0</text>
<text x="17.80" y="311.10" font-size="6.3" text-anchor="end" font-weight="normal" fill="#262626" >0</text>
<line x1="134.70" y1="378.40" x2="134.70" y2="376.60" stroke="#333" stroke-width="0.7" />
<line x1="134.70" y1="239.20" x2="134.70" y2="241.00" stroke="#333" stroke-width="0.7" />
<line x1="20.70" y1="291.40" x2="22.50" y2="291.40" stroke="#333" stroke-width="0.7" />
<line x1="203.10" y1="291.40" x2="201.30" y2="291.40" stroke="#333" stroke-width="0.7" />
<text x="134.70" y="386.90" font-size="6.3" text-anchor="middle" font-weight="normal" fill="#262626" >1</text>
<text x="17.80" y="293.70" font-size="6.3" text-anchor="end" font-weight="normal" fill="#262626" >1</text>
<line x1="157.50" y1="378.40" x2="157.50" y2="376.60" stroke="#333" stroke-width="0.7" />
<line x1="157.50" y1="239.20" x2="157.50" y2="241.00" stroke="#333" stroke-width="0.7" />
<line x1="20.70" y1="274.00" x2="22.50" y2="274.00" stroke="#333" stroke-width="0.7" />
<line x1="203.10" y1="274.00" x2="201.30" y2="274.00" stroke="#333" stroke-width="0.7" />
<text x="157.50" y="386.90" font-size="6.3" text-anchor="middle" font-weight="normal" fill="#262626" >2</text>
<text x="17.80" y="276.30" font-size="6.3" text-anchor="end" font-weight="normal" fill="#262626" >2</text>
<line x1="180.30" y1="378.40" x2="180.30" y2="376.60" stroke="#333" stroke-width="0.7" />
<line x1="180.30" y1="239.20" x2="180.30" y2="241.00" stroke="#333" stroke-width="0.7" />
<line x1="20.70" y1="256.60" x2="22.50" y2="256.60" stroke="#333" stroke-width="0.7" />
<line x1="203.10" y1="256.60" x2="201.30" y2="256.60" stroke="#333" stroke-width="0.7" />
<text x="180.30" y="386.90" font-size="6.3" text-anchor="middle" font-weight="normal" fill="#262626" >3</text>
<text x="17.80" y="258.90" font-size="6.3" text-anchor="end" font-weight="normal" fill="#262626" >3</text>
<line x1="203.10" y1="378.40" x2="203.10" y2="376.60" stroke="#333" stroke-width="0.7" />
<line x1="203.10" y1="239.20" x2="203.10" y2="241.00" stroke="#333" stroke-width="0.7" />
<line x1="20.70" y1="239.20" x2="22.50" y2="239.20" stroke="#333" stroke-width="0.7" />
<line x1="203.10" y1="239.20" x2="201.30" y2="239.20" stroke="#333" stroke-width="0.7" />
<text x="203.10" y="386.90" font-size="6.3" text-anchor="middle" font-weight="normal" fill="#262626" >4</text>
<text x="17.80" y="241.50" font-size="6.3" text-anchor="end" font-weight="normal" fill="#262626" >4</text>
<text x="111.90" y="400.60" font-size="11.5" text-anchor="middle" font-weight="normal" fill="#262626" >x</text>
<text transform="translate(9.70,308.70) rotate(-90)" font-size="11.5" text-anchor="middle" fill="#262626">t</text>
<text x="112.70" y="225.50" font-size="11.5" font-weight="bold" text-anchor="middle" fill="#000">(a<tspan font-size="8.2" dy="5.0">2</tspan><tspan dy="-5.0">)</tspan></text>
</g>
<g id="p21">
<clipPath id="cp1"><rect x="260.7" y="239.2" width="182.40" height="139.20"/></clipPath>
<g clip-path="url(#cp1)">
<rect x="260.7" y="239.2" width="182.40000000000003" height="139.2" fill="#d400ff"/>
<polygon points="259.70,379.40 259.70,317.60 279.80,316.50 280.40,379.40" fill="#ff0000" stroke="#602040" stroke-width="0.6"/>
<polygon points="280.80,238.20 280.80,311.70 288.90,315.10 309.30,314.40 331.00,312.40 340.00,310.40 347.20,308.80 348.00,305.60 356.10,299.10 366.50,303.20 375.60,293.00 385.80,295.10 388.20,290.10 395.00,283.70 413.90,288.10 415.10,282.90 423.70,275.80 444.10,279.40 444.10,238.20" fill="#ff0000" stroke="#602040" stroke-width="0.6"/>
<polygon points="423.70,277.10 432.00,282.70 423.60,288.90 417.10,282.70" fill="#1040ff" stroke="#103030" stroke-width="0.5" stroke-opacity="0.6"/>
<polygon points="423.72,278.24 430.36,282.72 423.64,287.68 418.44,282.72" fill="#10c0a0" stroke="#103030" stroke-width="0.5" stroke-opacity="0.6"/>
<polygon points="423.74,279.38 428.72,282.74 423.68,286.46 419.78,282.74" fill="#40e030" stroke="#103030" stroke-width="0.5" stroke-opacity="0.6"/>
<polygon points="423.76,280.52 427.08,282.76 423.72,285.24 421.12,282.76" fill="#d8e000" stroke="#103030" stroke-width="0.5" stroke-opacity="0.6"/>
<polygon points="423.78,281.66 425.44,282.78 423.76,284.02 422.46,282.78" fill="#ff2000" stroke="#103030" stroke-width="0.5" stroke-opacity="0.6"/>
<polygon points="395.40,288.20 399.30,290.50 395.40,292.60 392.40,290.50" fill="#0060ff" stroke="#103030" stroke-width="0.5" stroke-opacity="0.6"/>
</g>
<rect x="260.7" y="239.2" width="182.40" height="139.20" fill="none" stroke="#8c8c8c" stroke-width="0.8"/>
<line x1="260.70" y1="378.40" x2="260.70" y2="376.60" stroke="#333" stroke-width="0.7" />
<line x1="260.70" y1="239.20" x2="260.70" y2="241.00" stroke="#333" stroke-width="0.7" />
<line x1="260.70" y1="378.40" x2="262.50" y2="378.40" stroke="#333" stroke-width="0.7" />
<line x1="443.10" y1="378.40" x2="441.30" y2="378.40" stroke="#333" stroke-width="0.7" />
<text x="260.70" y="386.90" font-size="6.3" text-anchor="middle" font-weight="normal" fill="#262626" >-4</text>
<text x="257.80" y="380.70" font-size="6.3" text-anchor="end" font-weight="normal" fill="#262626" >-4</text>
<line x1="283.50" y1="378.40" x2="283.50" y2="376.60" stroke="#333" stroke-width="0.7" />
<line x1="283.50" y1="239.20" x2="283.50" y2="241.00" stroke="#333" stroke-width="0.7" />
<line x1="260.70" y1="361.00" x2="262.50" y2="361.00" stroke="#333" stroke-width="0.7" />
<line x1="443.10" y1="361.00" x2="441.30" y2="361.00" stroke="#333" stroke-width="0.7" />
<text x="283.50" y="386.90" font-size="6.3" text-anchor="middle" font-weight="normal" fill="#262626" >-3</text>
<text x="257.80" y="363.30" font-size="6.3" text-anchor="end" font-weight="normal" fill="#262626" >-3</text>
<line x1="306.30" y1="378.40" x2="306.30" y2="376.60" stroke="#333" stroke-width="0.7" />
<line x1="306.30" y1="239.20" x2="306.30" y2="241.00" stroke="#333" stroke-width="0.7" />
<line x1="260.70" y1="343.60" x2="262.50" y2="343.60" stroke="#333" stroke-width="0.7" />
<line x1="443.10" y1="343.60" x2="441.30" y2="343.60" stroke="#333" stroke-width="0.7" />
<text x="306.30" y="386.90" font-size="6.3" text-anchor="middle" font-weight="normal" fill="#262626" >-2</text>
<text x="257.80" y="345.90" font-size="6.3" text-anchor="end" font-weight="normal" fill="#262626" >-2</text>
<line x1="329.10" y1="378.40" x2="329.10" y2="376.60" stroke="#333" stroke-width="0.7" />
<line x1="329.10" y1="239.20" x2="329.10" y2="241.00" stroke="#333" stroke-width="0.7" />
<line x1="260.70" y1="326.20" x2="262.50" y2="326.20" stroke="#333" stroke-width="0.7" />
<line x1="443.10" y1="326.20" x2="441.30" y2="326.20" stroke="#333" stroke-width="0.7" />
<text x="329.10" y="386.90" font-size="6.3" text-anchor="middle" font-weight="normal" fill="#262626" >-1</text>
<text x="257.80" y="328.50" font-size="6.3" text-anchor="end" font-weight="normal" fill="#262626" >-1</text>
<line x1="351.90" y1="378.40" x2="351.90" y2="376.60" stroke="#333" stroke-width="0.7" />
<line x1="351.90" y1="239.20" x2="351.90" y2="241.00" stroke="#333" stroke-width="0.7" />
<line x1="260.70" y1="308.80" x2="262.50" y2="308.80" stroke="#333" stroke-width="0.7" />
<line x1="443.10" y1="308.80" x2="441.30" y2="308.80" stroke="#333" stroke-width="0.7" />
<text x="351.90" y="386.90" font-size="6.3" text-anchor="middle" font-weight="normal" fill="#262626" >0</text>
<text x="257.80" y="311.10" font-size="6.3" text-anchor="end" font-weight="normal" fill="#262626" >0</text>
<line x1="374.70" y1="378.40" x2="374.70" y2="376.60" stroke="#333" stroke-width="0.7" />
<line x1="374.70" y1="239.20" x2="374.70" y2="241.00" stroke="#333" stroke-width="0.7" />
<line x1="260.70" y1="291.40" x2="262.50" y2="291.40" stroke="#333" stroke-width="0.7" />
<line x1="443.10" y1="291.40" x2="441.30" y2="291.40" stroke="#333" stroke-width="0.7" />
<text x="374.70" y="386.90" font-size="6.3" text-anchor="middle" font-weight="normal" fill="#262626" >1</text>
<text x="257.80" y="293.70" font-size="6.3" text-anchor="end" font-weight="normal" fill="#262626" >1</text>
<line x1="397.50" y1="378.40" x2="397.50" y2="376.60" stroke="#333" stroke-width="0.7" />
<line x1="397.50" y1="239.20" x2="397.50" y2="241.00" stroke="#333" stroke-width="0.7" />
<line x1="260.70" y1="274.00" x2="262.50" y2="274.00" stroke="#333" stroke-width="0.7" />
<line x1="443.10" y1="274.00" x2="441.30" y2="274.00" stroke="#333" stroke-width="0.7" />
<text x="397.50" y="386.90" font-size="6.3" text-anchor="middle" font-weight="normal" fill="#262626" >2</text>
<text x="257.80" y="276.30" font-size="6.3" text-anchor="end" font-weight="normal" fill="#262626" >2</text>
<line x1="420.30" y1="378.40" x2="420.30" y2="376.60" stroke="#333" stroke-width="0.7" />
<line x1="420.30" y1="239.20" x2="420.30" y2="241.00" stroke="#333" stroke-width="0.7" />
<line x1="260.70" y1="256.60" x2="262.50" y2="256.60" stroke="#333" stroke-width="0.7" />
<line x1="443.10" y1="256.60" x2="441.30" y2="256.60" stroke="#333" stroke-width="0.7" />
<text x="420.30" y="386.90" font-size="6.3" text-anchor="middle" font-weight="normal" fill="#262626" >3</text>
<text x="257.80" y="258.90" font-size="6.3" text-anchor="end" font-weight="normal" fill="#262626" >3</text>
<line x1="443.10" y1="378.40" x2="443.10" y2="376.60" stroke="#333" stroke-width="0.7" />
<line x1="443.10" y1="239.20" x2="443.10" y2="241.00" stroke="#333" stroke-width="0.7" />
<line x1="260.70" y1="239.20" x2="262.50" y2="239.20" stroke="#333" stroke-width="0.7" />
<line x1="443.10" y1="239.20" x2="441.30" y2="239.20" stroke="#333" stroke-width="0.7" />
<text x="443.10" y="386.90" font-size="6.3" text-anchor="middle" font-weight="normal" fill="#262626" >4</text>
<text x="257.80" y="241.50" font-size="6.3" text-anchor="end" font-weight="normal" fill="#262626" >4</text>
<text x="351.90" y="400.60" font-size="11.5" text-anchor="middle" font-weight="normal" fill="#262626" >x</text>
<text transform="translate(249.70,308.70) rotate(-90)" font-size="11.5" text-anchor="middle" fill="#262626">t</text>
<text x="352.70" y="225.50" font-size="11.5" font-weight="bold" text-anchor="middle" fill="#000">(b<tspan font-size="8.2" dy="5.0">2</tspan><tspan dy="-5.0">)</tspan></text>
</g>
<g id="p22">
<clipPath id="cp2"><rect x="500.7" y="239.2" width="182.40" height="139.20"/></clipPath>
<g clip-path="url(#cp2)">
<rect x="500.7" y="239.2" width="182.40000000000003" height="139.2" fill="#00a8ff"/>
<polygon points="499.70,336.20 509.80,338.90 512.80,334.40 519.40,328.20 529.40,330.70 530.60,327.00 539.10,320.10 557.20,326.30 564.60,321.90 567.60,315.50 577.20,318.10 583.90,313.00 587.20,307.10 596.10,310.10 605.70,298.80 615.80,301.80 616.90,298.20 625.30,290.80 644.30,297.00 652.40,290.80 653.40,286.40 663.50,288.90 673.60,278.10 684.10,280.40 684.10,379.40 499.70,379.40" fill="#00ff6e" stroke="#204040" stroke-width="0.6"/>
<polygon points="539.20,320.00 546.30,326.50 538.90,332.40 533.30,326.50" fill="#60e020" stroke="#103030" stroke-width="0.5" stroke-opacity="0.6"/>
<polygon points="539.17,321.85 544.28,326.53 538.96,330.78 534.92,326.53" fill="#b8e000" stroke="#103030" stroke-width="0.5" stroke-opacity="0.6"/>
<polygon points="539.14,323.63 542.34,326.56 539.01,329.21 536.49,326.56" fill="#f09000" stroke="#103030" stroke-width="0.5" stroke-opacity="0.6"/>
<polygon points="539.12,325.28 540.54,326.58 539.06,327.76 537.94,326.58" fill="#ff1010" stroke="#103030" stroke-width="0.5" stroke-opacity="0.6"/>
<polygon points="558.40,315.30 562.80,319.40 558.10,323.20 552.20,319.40" fill="#3000ff" stroke="#103030" stroke-width="0.5" stroke-opacity="0.6"/>
<polygon points="558.32,318.38 559.42,319.40 558.25,320.35 556.77,319.40" fill="#d000c0" stroke="#103030" stroke-width="0.5" stroke-opacity="0.6"/>
<polygon points="625.40,293.80 631.70,297.80 625.40,301.80 620.60,297.80" fill="#a8f000" stroke="#103030" stroke-width="0.5" stroke-opacity="0.6"/>
<polygon points="625.40,295.40 629.18,297.80 625.40,300.20 622.52,297.80" fill="#c8d800" stroke="#103030" stroke-width="0.5" stroke-opacity="0.6"/>
<polygon points="625.40,297.00 626.66,297.80 625.40,298.60 624.44,297.80" fill="#f07000" stroke="#103030" stroke-width="0.5" stroke-opacity="0.6"/>
<polygon points="644.30,284.40 650.90,290.10 644.30,295.30 637.10,290.10" fill="#4000ff" stroke="#103030" stroke-width="0.5" stroke-opacity="0.6"/>
<polygon points="644.30,286.96 647.93,290.10 644.30,292.96 640.34,290.10" fill="#ff00e0" stroke="#103030" stroke-width="0.5" stroke-opacity="0.6"/>
<polygon points="644.30,288.96 645.62,290.10 644.30,291.14 642.86,290.10" fill="#ff1010" stroke="#103030" stroke-width="0.5" stroke-opacity="0.6"/>
</g>
<rect x="500.7" y="239.2" width="182.40" height="139.20" fill="none" stroke="#8c8c8c" stroke-width="0.8"/>
<line x1="500.70" y1="378.40" x2="500.70" y2="376.60" stroke="#333" stroke-width="0.7" />
<line x1="500.70" y1="239.20" x2="500.70" y2="241.00" stroke="#333" stroke-width="0.7" />
<line x1="500.70" y1="378.40" x2="502.50" y2="378.40" stroke="#333" stroke-width="0.7" />
<line x1="683.10" y1="378.40" x2="681.30" y2="378.40" stroke="#333" stroke-width="0.7" />
<text x="500.70" y="386.90" font-size="6.3" text-anchor="middle" font-weight="normal" fill="#262626" >-4</text>
<text x="497.80" y="380.70" font-size="6.3" text-anchor="end" font-weight="normal" fill="#262626" >-4</text>
<line x1="523.50" y1="378.40" x2="523.50" y2="376.60" stroke="#333" stroke-width="0.7" />
<line x1="523.50" y1="239.20" x2="523.50" y2="241.00" stroke="#333" stroke-width="0.7" />
<line x1="500.70" y1="361.00" x2="502.50" y2="361.00" stroke="#333" stroke-width="0.7" />
<line x1="683.10" y1="361.00" x2="681.30" y2="361.00" stroke="#333" stroke-width="0.7" />
<text x="523.50" y="386.90" font-size="6.3" text-anchor="middle" font-weight="normal" fill="#262626" >-3</text>
<text x="497.80" y="363.30" font-size="6.3" text-anchor="end" font-weight="normal" fill="#262626" >-3</text>
<line x1="546.30" y1="378.40" x2="546.30" y2="376.60" stroke="#333" stroke-width="0.7" />
<line x1="546.30" y1="239.20" x2="546.30" y2="241.00" stroke="#333" stroke-width="0.7" />
<line x1="500.70" y1="343.60" x2="502.50" y2="343.60" stroke="#333" stroke-width="0.7" />
<line x1="683.10" y1="343.60" x2="681.30" y2="343.60" stroke="#333" stroke-width="0.7" />
<text x="546.30" y="386.90" font-size="6.3" text-anchor="middle" font-weight="normal" fill="#262626" >-2</text>
<text x="497.80" y="345.90" font-size="6.3" text-anchor="end" font-weight="normal" fill="#262626" >-2</text>
<line x1="569.10" y1="378.40" x2="569.10" y2="376.60" stroke="#333" stroke-width="0.7" />
<line x1="569.10" y1="239.20" x2="569.10" y2="241.00" stroke="#333" stroke-width="0.7" />
<line x1="500.70" y1="326.20" x2="502.50" y2="326.20" stroke="#333" stroke-width="0.7" />
<line x1="683.10" y1="326.20" x2="681.30" y2="326.20" stroke="#333" stroke-width="0.7" />
<text x="569.10" y="386.90" font-size="6.3" text-anchor="middle" font-weight="normal" fill="#262626" >-1</text>
<text x="497.80" y="328.50" font-size="6.3" text-anchor="end" font-weight="normal" fill="#262626" >-1</text>
<line x1="591.90" y1="378.40" x2="591.90" y2="376.60" stroke="#333" stroke-width="0.7" />
<line x1="591.90" y1="239.20" x2="591.90" y2="241.00" stroke="#333" stroke-width="0.7" />
<line x1="500.70" y1="308.80" x2="502.50" y2="308.80" stroke="#333" stroke-width="0.7" />
<line x1="683.10" y1="308.80" x2="681.30" y2="308.80" stroke="#333" stroke-width="0.7" />
<text x="591.90" y="386.90" font-size="6.3" text-anchor="middle" font-weight="normal" fill="#262626" >0</text>
<text x="497.80" y="311.10" font-size="6.3" text-anchor="end" font-weight="normal" fill="#262626" >0</text>
<line x1="614.70" y1="378.40" x2="614.70" y2="376.60" stroke="#333" stroke-width="0.7" />
<line x1="614.70" y1="239.20" x2="614.70" y2="241.00" stroke="#333" stroke-width="0.7" />
<line x1="500.70" y1="291.40" x2="502.50" y2="291.40" stroke="#333" stroke-width="0.7" />
<line x1="683.10" y1="291.40" x2="681.30" y2="291.40" stroke="#333" stroke-width="0.7" />
<text x="614.70" y="386.90" font-size="6.3" text-anchor="middle" font-weight="normal" fill="#262626" >1</text>
<text x="497.80" y="293.70" font-size="6.3" text-anchor="end" font-weight="normal" fill="#262626" >1</text>
<line x1="637.50" y1="378.40" x2="637.50" y2="376.60" stroke="#333" stroke-width="0.7" />
<line x1="637.50" y1="239.20" x2="637.50" y2="241.00" stroke="#333" stroke-width="0.7" />
<line x1="500.70" y1="274.00" x2="502.50" y2="274.00" stroke="#333" stroke-width="0.7" />
<line x1="683.10" y1="274.00" x2="681.30" y2="274.00" stroke="#333" stroke-width="0.7" />
<text x="637.50" y="386.90" font-size="6.3" text-anchor="middle" font-weight="normal" fill="#262626" >2</text>
<text x="497.80" y="276.30" font-size="6.3" text-anchor="end" font-weight="normal" fill="#262626" >2</text>
<line x1="660.30" y1="378.40" x2="660.30" y2="376.60" stroke="#333" stroke-width="0.7" />
<line x1="660.30" y1="239.20" x2="660.30" y2="241.00" stroke="#333" stroke-width="0.7" />
<line x1="500.70" y1="256.60" x2="502.50" y2="256.60" stroke="#333" stroke-width="0.7" />
<line x1="683.10" y1="256.60" x2="681.30" y2="256.60" stroke="#333" stroke-width="0.7" />
<text x="660.30" y="386.90" font-size="6.3" text-anchor="middle" font-weight="normal" fill="#262626" >3</text>
<text x="497.80" y="258.90" font-size="6.3" text-anchor="end" font-weight="normal" fill="#262626" >3</text>
<line x1="683.10" y1="378.40" x2="683.10" y2="376.60" stroke="#333" stroke-width="0.7" />
<line x1="683.10" y1="239.20" x2="683.10" y2="241.00" stroke="#333" stroke-width="0.7" />
<line x1="500.70" y1="239.20" x2="502.50" y2="239.20" stroke="#333" stroke-width="0.7" />
<line x1="683.10" y1="239.20" x2="681.30" y2="239.20" stroke="#333" stroke-width="0.7" />
<text x="683.10" y="386.90" font-size="6.3" text-anchor="middle" font-weight="normal" fill="#262626" >4</text>
<text x="497.80" y="241.50" font-size="6.3" text-anchor="end" font-weight="normal" fill="#262626" >4</text>
<text x="591.90" y="400.60" font-size="11.5" text-anchor="middle" font-weight="normal" fill="#262626" >x</text>
<text transform="translate(489.70,308.70) rotate(-90)" font-size="11.5" text-anchor="middle" fill="#262626">t</text>
<text x="597.00" y="225.50" font-size="11.5" font-weight="bold" text-anchor="middle" fill="#000">(c<tspan font-size="8.2" dy="5.0">2</tspan><tspan dy="-5.0">)</tspan></text>
</g>
<rect x="229.8" y="401.8" width="1.1" height="1.6" fill="#8a8a95"/>
<rect x="469.7" y="401.8" width="1.1" height="1.6" fill="#8a8a95"/>
</svg></body></html>
